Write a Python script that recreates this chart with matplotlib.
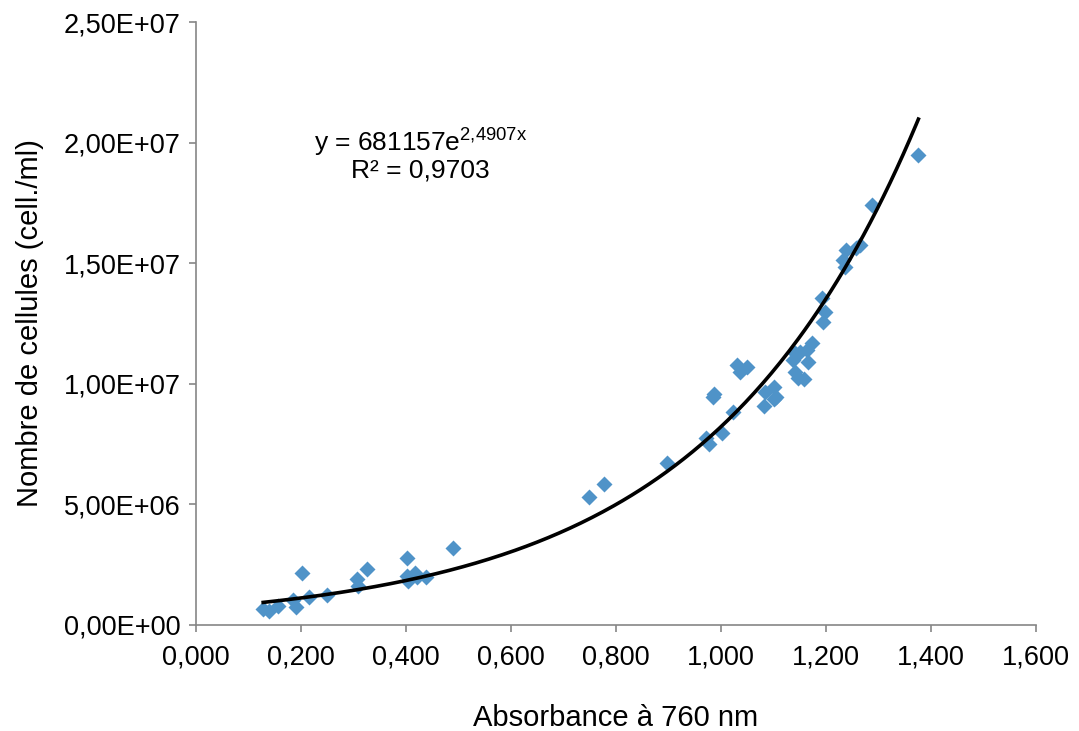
import numpy as np
import matplotlib.pyplot as plt
from matplotlib.ticker import FuncFormatter, MultipleLocator

plt.rcParams['font.family'] = ['Liberation Sans', 'DejaVu Sans']
plt.rcParams['mathtext.fontset'] = 'custom'
plt.rcParams['mathtext.rm'] = 'Liberation Sans'
plt.rcParams['mathtext.default'] = 'regular'

# absorbance at 760 nm vs cell count
absorbance = [0.128, 0.139, 0.157, 0.185, 0.190, 0.201, 0.215, 0.249,
              0.306, 0.309, 0.325, 0.402, 0.401, 0.404, 0.417, 0.420, 0.438, 0.489,
              0.749, 0.777, 0.897, 0.971, 0.978, 1.001, 1.023, 0.987, 0.984,
              1.030, 1.036, 1.049, 1.081, 1.084, 1.100, 1.105, 1.101,
              1.173, 1.163, 1.141, 1.138, 1.166, 1.141, 1.147, 1.158, 1.150,
              1.195, 1.198, 1.192, 1.233, 1.236, 1.239, 1.258, 1.265, 1.287, 1.376]
cells = [6.5e5, 5.9e5, 8.0e5, 1.04e6, 7.3e5, 2.17e6, 1.15e6, 1.24e6,
         1.89e6, 1.62e6, 2.31e6, 2.79e6, 2.03e6, 1.84e6, 2.14e6, 1.98e6, 2.0e6, 3.18e6,
         5.32e6, 5.85e6, 6.70e6, 7.74e6, 7.50e6, 7.97e6, 8.84e6, 9.58e6, 9.44e6,
         1.078e7, 1.050e7, 1.068e7, 9.08e6, 9.67e6, 9.88e6, 9.44e6, 9.37e6,
         1.168e7, 1.140e7, 1.126e7, 1.099e7, 1.092e7, 1.050e7, 1.023e7, 1.019e7, 1.13e7,
         1.257e7, 1.299e7, 1.354e7, 1.513e7, 1.486e7, 1.555e7, 1.562e7, 1.575e7, 1.741e7, 1.949e7]

# exponential trendline shown on the chart
fit_a = 681157
fit_b = 2.4907
fit_r2 = "0,9703"

fig = plt.figure(figsize=(10.79, 7.31), dpi=100)
ax = fig.add_axes([196 / 1079, 1 - 625 / 731, 840 / 1079, 603 / 731])

ax.plot(absorbance, cells, 'D', color='#4F93C8', ms=8.2, mec='none', zorder=2)

xf = np.linspace(min(absorbance), max(absorbance), 300)
ax.plot(xf, fit_a * np.exp(fit_b * xf), color='black', lw=2.6, zorder=3)

ax.set_xlim(0, 1.6)
ax.set_ylim(0, 2.5e7)
ax.xaxis.set_major_locator(MultipleLocator(0.2))
ax.yaxis.set_major_locator(MultipleLocator(5e6))
ax.xaxis.set_major_formatter(FuncFormatter(lambda v, p: f"{v:.3f}".replace('.', ',')))
ax.yaxis.set_major_formatter(FuncFormatter(lambda v, p: f"{v:.2E}".replace('.', ',')))

for s in ['top', 'right']:
    ax.spines[s].set_visible(False)
for s in ['left', 'bottom']:
    ax.spines[s].set_color('#868686')
    ax.spines[s].set_linewidth(1.2)
ax.tick_params(direction='out', length=5, width=1.2, color='#868686',
               labelsize=19.5, pad=9)
ax.tick_params(axis='y', pad=6)

ax.set_xlabel("Absorbance à 760 nm", fontsize=21, labelpad=24)
ax.set_ylabel("Nombre de cellules (cell./ml)", fontsize=21, labelpad=14)

ax.text(0.427, 2.0e7, r"y = 681157e$^{2{,}4907x}$", ha='center', va='center', fontsize=19)
ax.text(0.427, 1.885e7, "R² = " + fit_r2, ha='center', va='center', fontsize=19)

fig.savefig("out.png", dpi=100)
